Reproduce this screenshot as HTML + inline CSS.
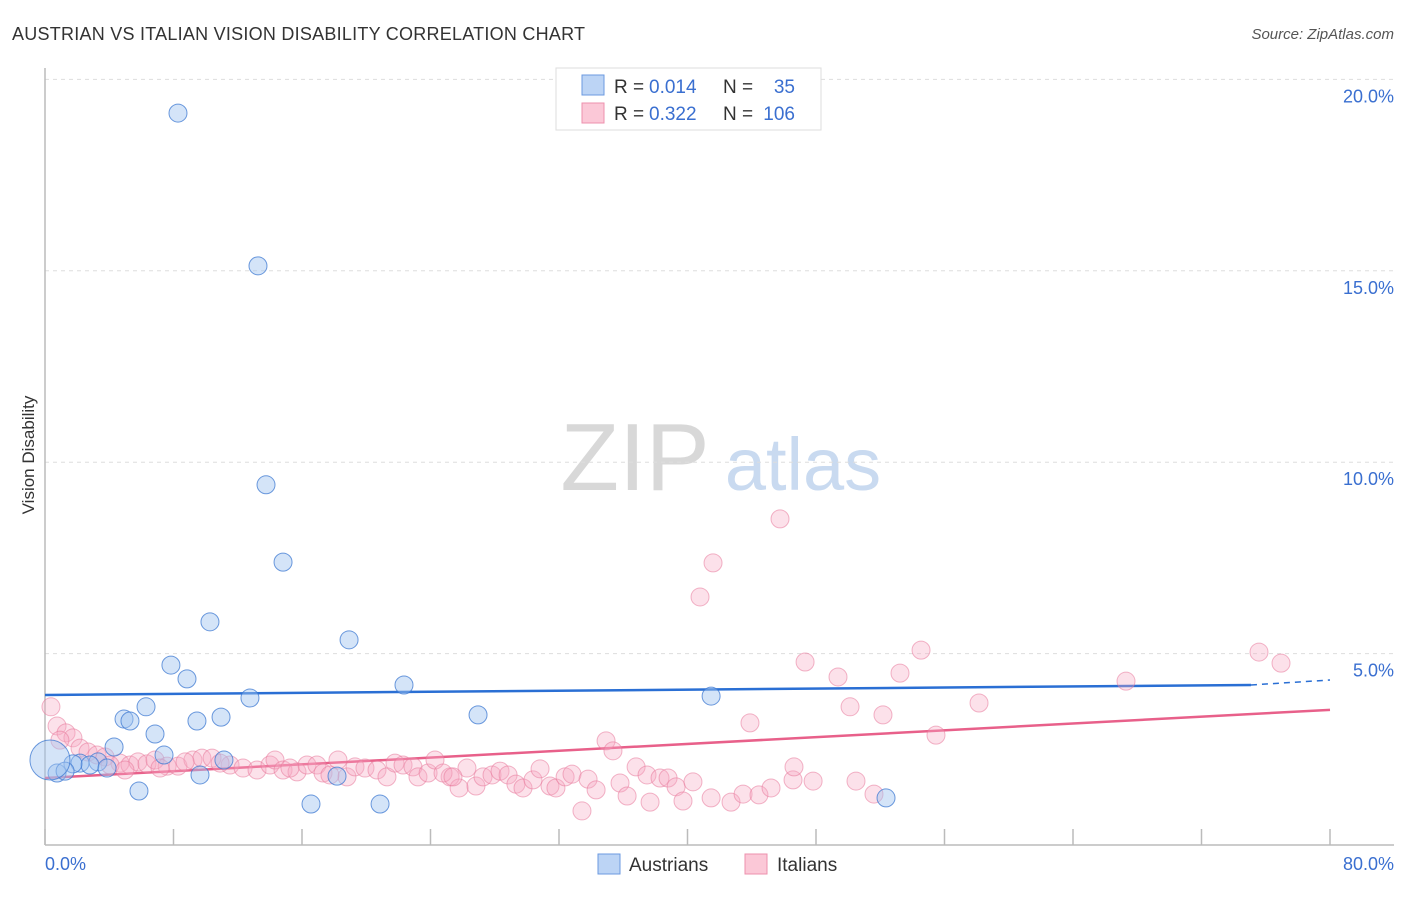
<!DOCTYPE html>
<html><head><meta charset="utf-8"><style>
body{margin:0;background:#fff;font-family:"Liberation Sans",sans-serif;}
svg text{font-family:"Liberation Sans",sans-serif;}
</style></head><body>
<svg id="chart" width="1406" height="892" xmlns="http://www.w3.org/2000/svg">
<text x="12" y="40" font-size="18" fill="#333" textLength="573" lengthAdjust="spacing">AUSTRIAN VS ITALIAN VISION DISABILITY CORRELATION CHART</text>
<text x="1394" y="39" font-size="15" fill="#555" font-style="italic" text-anchor="end">Source: ZipAtlas.com</text>
<g>
<text x="635" y="490" font-size="96" fill="#d8d8d8" font-family="Liberation Serif" text-anchor="middle">ZIP</text>
<text x="803" y="490" font-size="74" fill="#c9daf0" text-anchor="middle">atlas</text>
</g>
<g id="grid"></g>
<g id="axes"></g>
<g id="trends"></g>
<g id="points"></g>
<text x="34" y="455" font-size="17" fill="#333" transform="rotate(-90 34 455)" text-anchor="middle">Vision Disability</text>
<text x="45" y="870" font-size="18" fill="#3a6fd0">0.0%</text>
<text x="1394" y="870" font-size="18" fill="#3a6fd0" text-anchor="end">80.0%</text>
<g>
<rect x="556" y="68" width="265" height="62" fill="#fff" stroke="#ddd"/>
<rect x="582" y="75" width="22" height="20" fill="#bcd4f5" stroke="#6b9ae0"/>
<rect x="582" y="103" width="22" height="20" fill="#fbc8d7" stroke="#ee90ad"/>
<text x="614" y="93" font-size="19" fill="#333">R =</text>
<text x="649" y="93" font-size="19" fill="#3a6fd0">0.014</text>
<text x="723" y="93" font-size="19" fill="#333">N =</text>
<text x="795" y="93" font-size="19" fill="#3a6fd0" text-anchor="end">35</text>
<text x="614" y="120" font-size="19" fill="#333">R =</text>
<text x="649" y="120" font-size="19" fill="#3a6fd0">0.322</text>
<text x="723" y="120" font-size="19" fill="#333">N =</text>
<text x="795" y="120" font-size="19" fill="#3a6fd0" text-anchor="end">106</text>
</g>
<g>
<rect x="598" y="854" width="22" height="20" fill="#bcd4f5" stroke="#6b9ae0"/>
<text x="629" y="871" font-size="19" fill="#333">Austrians</text>
<rect x="745" y="854" width="22" height="20" fill="#fbc8d7" stroke="#ee90ad"/>
<text x="777" y="871" font-size="19" fill="#333">Italians</text>
</g>
</svg>
<script>
const yTicks=[5,10,15,20];
const yTickLabels=["5.0%","10.0%","15.0%","20.0%"];
const xTicks=[0,8,16,24,32,40,48,56,64,72,80];
const ausX=[8.28,13.26,13.76,14.82,10.27,18.93,7.84,8.84,12.76,22.35,6.29,4.92,5.29,9.46,10.96,6.85,26.96,41.47,4.30,7.41,11.14,3.30,2.18,2.80,1.74,0.75,1.25,3.86,9.65,18.18,5.85,16.56,20.86,52.36,0.31];
const ausY=[19.12,15.13,9.41,7.39,5.83,5.36,4.70,4.34,3.84,4.18,3.61,3.29,3.24,3.24,3.34,2.90,3.40,3.89,2.56,2.35,2.22,2.17,2.14,2.09,2.12,1.88,1.93,2.01,1.83,1.80,1.41,1.07,1.07,1.23,2.22];
const ausR=[9,9,9,9,9,9,9,9,9,9,9,9,9,9,9,9,9,9,9,9,9,9,9,9,9,9,9,9,9,9,9,9,9,9,20];
const itaX=[45.76,41.59,40.78,75.58,54.54,47.32,76.95,49.37,53.23,67.30,58.15,50.12,52.17,43.89,55.47,34.93,35.36,
26.27,25.22,25.78,26.83,27.27,27.83,28.33,28.83,29.32,29.76,30.38,30.82,31.44,31.81,32.38,32.81,33.81,34.31,33.43,35.80,36.24,36.80,37.48,38.29,38.79,39.29,37.67,39.72,40.34,41.47,42.71,43.46,44.45,45.20,46.57,46.63,47.82,50.49,51.61,
0.37,0.75,1.31,1.74,2.18,2.68,3.24,3.74,4.67,5.29,5.79,6.35,6.85,7.60,8.28,9.21,9.77,10.40,11.52,12.33,13.20,14.01,14.32,14.82,15.69,16.31,16.93,17.31,18.24,18.80,19.30,19.92,20.67,21.29,21.79,22.29,22.91,23.22,23.85,24.28,24.78,25.40,
17.74,8.72,4.05,0.93,4.98,7.16,10.90,15.25];
const itaY=[8.52,7.37,6.48,5.04,5.09,4.78,4.75,4.39,4.49,4.28,3.71,3.61,3.40,3.19,2.87,2.72,2.46,
2.01,1.78,1.49,1.54,1.78,1.83,1.93,1.83,1.59,1.49,1.70,1.99,1.54,1.49,1.78,1.85,1.72,1.44,0.89,1.62,1.28,2.04,1.83,1.75,1.75,1.52,1.12,1.15,1.65,1.23,1.12,1.33,1.31,1.49,1.70,2.04,1.67,1.67,1.33,
3.61,3.11,2.93,2.80,2.53,2.43,2.35,2.30,2.14,2.09,2.17,2.12,2.22,2.06,2.06,2.22,2.27,2.27,2.09,2.01,1.96,2.09,2.22,1.96,1.91,2.09,2.09,1.88,2.22,1.78,2.04,2.01,1.96,1.78,2.14,2.09,2.04,1.78,1.88,2.22,1.88,1.78,
1.83,2.17,2.09,2.74,1.96,2.01,2.14,2.01];
const ausTrend=[3.92,4.18,4.31];
const ausTrendX=[0,75.08,80];
const itaTrend=[1.75,3.53];
const itaTrendX=[0,80];
const NS="http://www.w3.org/2000/svg";
const X=v=>45+v/80*1285;
const Y=v=>845-v*38.28;
function mk(tag,attrs,parent){const e=document.createElementNS(NS,tag);for(const k in attrs)e.setAttribute(k,attrs[k]);parent.appendChild(e);return e;}
const grid=document.getElementById('grid'),axes=document.getElementById('axes'),trends=document.getElementById('trends'),pts=document.getElementById('points');
yTicks.forEach((t,i)=>{
 const l=mk('line',{x1:45,x2:1394,y1:Y(t),y2:Y(t),stroke:'#ddd','stroke-dasharray':'4,4'},grid);
 
 
 const tx=mk('text',{x:1394,y:Y(t)+23,'font-size':18,fill:'#3a6fd0','text-anchor':'end'},grid);
 tx.textContent=yTickLabels[i];
 
 
});
const ya=mk('line',{x1:45,x2:45,y1:68,y2:845,stroke:'#bbb','stroke-width':1.5},axes);


const xa=mk('line',{x1:45,x2:1394,y1:845,y2:845,stroke:'#bbb','stroke-width':1.5},axes);


xTicks.forEach(t=>{
 const l=mk('line',{x1:X(t),x2:X(t),y1:829,y2:845,stroke:'#bbb','stroke-width':1.5},axes);
 
 
});
const at1=mk('line',{x1:X(ausTrendX[0]),y1:Y(ausTrend[0]),x2:X(ausTrendX[1]),y2:Y(ausTrend[1]),stroke:'#2a6fd4','stroke-width':2.5},trends);


const at2=mk('line',{x1:X(ausTrendX[1]),y1:Y(ausTrend[1]),x2:X(ausTrendX[2]),y2:Y(ausTrend[2]),stroke:'#2a6fd4','stroke-width':1.5,'stroke-dasharray':'6,5'},trends);


itaX.forEach((x,i)=>{
 const c=mk('circle',{cx:X(x),cy:Y(itaY[i]),r:9,fill:'rgba(247,170,195,0.35)',stroke:'rgba(232,120,155,0.55)','stroke-width':1},pts);
 
 
});
ausX.forEach((x,i)=>{
 const c=mk('circle',{cx:X(x),cy:Y(ausY[i]),r:ausR[i],fill:'rgba(160,195,240,0.45)',stroke:'rgba(60,120,210,0.75)','stroke-width':1},pts);
 
 
});
const it=mk('line',{x1:X(itaTrendX[0]),y1:Y(itaTrend[0]),x2:X(itaTrendX[1]),y2:Y(itaTrend[1]),stroke:'#e8608a','stroke-width':2.5},trends);


</script>
</body></html>
